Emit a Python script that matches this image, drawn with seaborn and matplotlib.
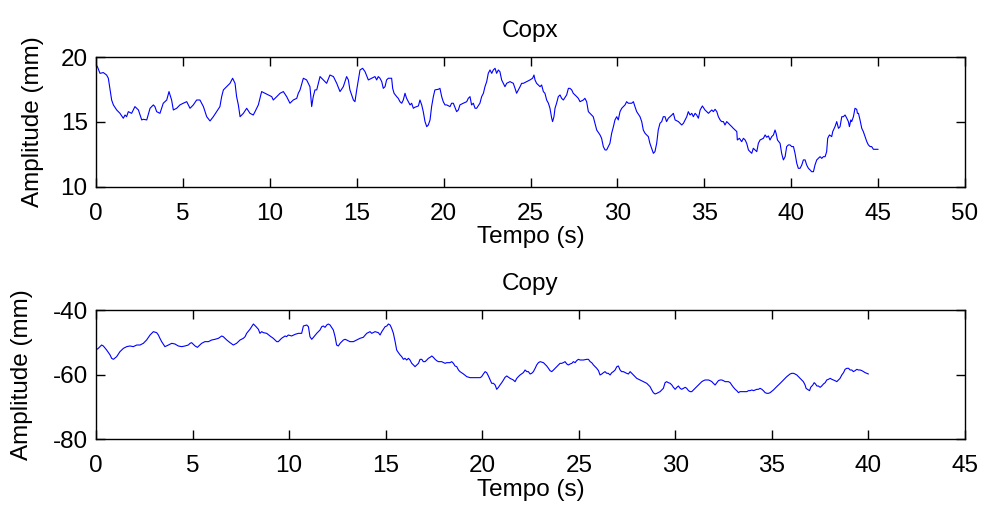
import matplotlib
matplotlib.use("Agg")
import matplotlib.pyplot as plt
import seaborn as sns
import pandas as pd

# ---------------- data ----------------
copx_t = [0.00, 0.08, 0.23, 0.42, 0.61, 0.71, 0.81, 0.90, 1.00, 1.19, 1.38, 1.57, 1.67, 1.76, 1.86,
          2.05, 2.24, 2.44, 2.63, 2.72, 2.92, 3.11, 3.30, 3.39, 3.49, 3.68, 3.87, 4.07, 4.20, 4.35,
          4.45, 4.64, 4.83, 5.02, 5.22, 5.41, 5.60, 5.79, 5.98, 6.18, 6.37, 6.56, 6.75, 6.94, 7.13,
          7.23, 7.33, 7.52, 7.71, 7.86, 8.00, 8.09, 8.19, 8.29, 8.48, 8.67, 8.86, 9.05, 9.15, 9.34,
          9.53, 9.72, 9.92, 10.11, 10.20, 10.40, 10.59, 10.78, 10.97, 11.16, 11.35, 11.55, 11.64,
          11.74, 11.93, 12.12, 12.31, 12.41, 12.50, 12.60, 12.70, 12.89, 13.08, 13.27, 13.46, 13.66,
          13.85, 14.04, 14.23, 14.42, 14.52, 14.61, 14.81, 14.90, 15.00, 15.19, 15.34, 15.48, 15.67,
          15.86, 16.05, 16.15, 16.24,
          16.34, 16.44, 16.53, 16.63, 16.72, 16.82, 17.01, 17.07, 17.15, 17.30, 17.39, 17.49, 17.59,
          17.68, 17.78, 17.87, 17.97, 18.07, 18.16, 18.26, 18.35, 18.45, 18.55, 18.64, 18.74, 18.83,
          18.93, 19.03, 19.12, 19.22, 19.31, 19.41, 19.50, 19.70, 19.79, 19.89, 19.98, 20.08, 20.18,
          20.37, 20.46, 20.56, 20.75, 20.85, 20.94, 21.13, 21.33, 21.42, 21.52, 21.61, 21.71, 21.81,
          21.90, 22.09, 22.19, 22.29, 22.38, 22.48, 22.57, 22.67, 22.77, 22.86, 22.96, 23.05, 23.15,
          23.24, 23.34, 23.53, 23.63, 23.82, 24.01, 24.11, 24.20, 24.40, 24.49, 24.59, 24.78, 24.97,
          25.12, 25.20, 25.26, 25.35, 25.55, 25.64, 25.74, 25.83, 25.93, 26.03, 26.12, 26.22, 26.27,
          26.35, 26.41, 26.50, 26.60, 26.70, 26.79, 26.89, 27.08, 27.18, 27.27, 27.37, 27.46, 27.66,
          27.75, 27.85, 28.04, 28.13, 28.23, 28.33, 28.52, 28.61, 28.71, 28.81, 29.00, 29.09, 29.19,
          29.29, 29.38, 29.48, 29.57, 29.67, 29.77, 29.86, 29.96, 30.05, 30.15, 30.25, 30.44, 30.53,
          30.63, 30.72, 30.82, 30.92, 31.01, 31.11, 31.30, 31.40, 31.49, 31.59, 31.68, 31.78, 31.87,
          31.97, 32.07, 32.16, 32.26, 32.35, 32.45, 32.55, 32.64, 32.74, 32.83, 32.93,
          33.03, 33.13, 33.22, 33.32, 33.51, 33.70, 33.80, 33.99, 34.08, 34.18, 34.28, 34.37, 34.47,
          34.56, 34.66, 34.76, 34.89, 35.04, 35.14, 35.24, 35.33, 35.43, 35.52, 35.62, 35.72, 35.81,
          35.91, 36.00, 36.10, 36.19, 36.29, 36.39, 36.48, 36.58, 36.67, 36.77, 36.87, 36.90, 37.02,
          37.15, 37.25, 37.35, 37.44, 37.54, 37.63, 37.73, 37.82, 37.92, 38.02, 38.11, 38.21, 38.40,
          38.50, 38.59, 38.69, 38.78, 38.88, 38.98, 39.07, 39.13, 39.21, 39.36, 39.45, 39.55, 39.65,
          39.74, 39.84, 39.93, 40.03, 40.13, 40.22, 40.32, 40.41, 40.51, 40.61, 40.70, 40.80, 40.89,
          40.99, 41.09, 41.18, 41.28, 41.37, 41.47, 41.56, 41.66, 41.76, 41.85, 41.95, 42.04, 42.10,
          42.20, 42.33, 42.39, 42.52, 42.62, 42.72, 42.81, 42.91, 43.00, 43.10, 43.20, 43.29, 43.35,
          43.43, 43.48, 43.58, 43.67, 43.77, 43.81, 43.87, 43.96, 44.06, 44.15, 44.25, 44.35, 44.44,
          44.54, 44.63, 44.73, 45.00]
copx_v = [19.41, 19.28, 18.76, 18.82, 18.63, 18.38, 17.48, 16.70, 16.32, 15.93, 15.67, 15.29, 15.54,
          15.41, 15.80, 15.67, 16.19, 15.93, 15.16, 15.21, 15.16, 16.06, 16.32, 16.19, 15.80, 15.67,
          16.45, 16.70, 17.35, 16.70, 15.93, 16.06, 16.32, 16.45, 16.57, 16.06, 16.32, 16.70, 16.70,
          16.19, 15.41, 15.08, 15.41, 15.80, 16.19, 16.96, 17.48, 17.73, 17.99, 18.38, 17.99, 16.96,
          16.32, 15.41, 15.67, 16.06, 15.67, 15.54, 15.80, 16.32, 17.35, 17.22, 17.09, 16.96, 16.70,
          16.96, 17.22, 17.35, 16.96, 16.45, 16.70, 16.83, 17.22, 17.48, 18.38, 18.25, 17.73, 16.19,
          16.96, 17.48, 17.48, 18.51, 18.25, 17.99, 18.63, 18.51, 17.99, 17.35, 17.73, 18.51, 18.25,
          17.48, 16.70, 16.57, 17.48, 19.02, 19.15, 18.89, 18.25, 18.38, 18.51, 18.25, 18.51,
          18.38, 18.12, 17.60, 17.73, 18.25, 18.38, 18.38, 17.60, 17.22, 16.96, 16.83, 16.57, 16.45,
          16.70, 17.22, 16.83, 16.57, 16.32, 16.45, 16.06, 16.14, 16.19, 16.24, 16.70, 16.32, 15.80,
          15.03, 14.64, 14.77, 15.16, 16.19, 16.96, 17.48, 17.53, 17.60, 16.96, 16.57, 16.32, 16.32,
          16.19, 16.45, 16.45, 15.80, 15.93, 16.32, 16.45, 16.57, 16.83, 16.96, 16.32, 16.45, 16.06,
          16.06, 16.45, 16.96, 17.22, 17.73, 18.12, 18.76, 19.02, 18.76, 19.02, 19.15, 18.76, 19.02,
          18.89, 18.25, 17.73, 17.99, 18.12, 17.99, 17.60, 17.22, 17.73, 17.99, 17.99, 18.12, 18.25,
          18.38, 18.63, 18.25, 17.99, 17.73, 17.86, 17.35, 17.22, 16.70, 16.45, 16.06, 15.29, 15.03,
          15.41, 16.06, 16.45, 16.96, 17.09, 16.83, 16.70, 17.09, 17.60, 17.60, 17.48, 17.22, 16.96,
          16.83, 16.57, 16.70, 16.83, 16.57, 15.80, 15.54, 15.41, 14.90, 14.38, 14.00, 13.74, 13.10,
          12.84, 12.84, 13.10, 13.35, 14.13, 14.64, 15.16, 15.41, 15.16, 15.80, 16.06, 16.32, 16.57,
          16.45, 16.45, 16.45, 16.57, 16.19, 15.80, 15.41, 15.03, 14.38, 14.13, 14.00, 13.87, 13.35,
          12.97, 12.58, 12.71, 13.35, 14.38, 14.90, 15.03, 15.41, 15.41, 15.03, 15.29,
          15.41, 15.54, 15.67, 15.16, 15.03, 14.77, 14.90, 15.41, 15.80, 15.54, 15.67, 15.41, 15.67,
          15.54, 15.29, 15.93, 16.24, 15.93, 15.80, 15.67, 15.80, 15.93, 15.80, 15.98, 15.80, 15.41,
          15.16, 15.03, 15.03, 14.77, 15.03, 14.90, 14.77, 14.64, 14.51, 14.38, 14.26, 13.61, 13.74,
          13.48, 13.74, 13.61, 13.35, 12.84, 12.71, 12.58, 12.97, 12.84, 12.71, 13.35, 13.61, 13.74,
          14.00, 13.82, 13.92, 13.61, 13.87, 14.00, 14.38, 14.13, 13.61, 13.35, 12.58, 12.07, 12.32,
          13.10, 13.23, 13.23, 13.10, 13.10, 12.58, 11.81, 11.42, 11.42, 11.68, 12.07, 12.07, 11.68,
          11.42, 11.29, 11.16, 11.16, 11.68, 12.07, 12.19, 12.32, 12.19, 12.32, 12.32, 12.71, 13.74,
          14.00, 13.87, 14.26, 14.64, 15.03, 14.51, 14.64, 15.41, 15.41, 15.54, 15.29, 15.03, 14.64,
          15.16, 15.03, 15.41, 16.06, 15.98, 15.67, 15.67, 15.16, 14.51, 14.26, 13.87, 13.48, 13.23,
          13.10, 13.10, 12.89, 12.89]

copy_t = [0.00, 0.12, 0.29, 0.38, 0.55, 0.73, 0.81, 0.90, 1.07, 1.24, 1.42, 1.59, 1.76, 1.93, 2.11,
          2.28, 2.45, 2.62, 2.80, 2.97, 3.14, 3.23, 3.31, 3.40, 3.57, 3.75, 3.92, 4.09, 4.26, 4.44,
          4.61, 4.78, 4.87, 4.95, 5.13, 5.25, 5.47, 5.64, 5.82, 5.99, 6.16, 6.34, 6.51, 6.59, 6.77,
          6.94, 7.11, 7.28, 7.46, 7.63, 7.72, 7.80, 7.97, 8.15, 8.29, 8.41, 8.49, 8.58, 8.67, 8.84,
          9.01, 9.18, 9.36, 9.44, 9.61, 9.79, 9.87, 9.96, 10.13, 10.31, 10.48, 10.65, 10.74, 10.91,
          11.00, 11.08, 11.17, 11.26, 11.43, 11.60, 11.69, 11.77, 11.86, 11.95, 12.03, 12.12, 12.29,
          12.38, 12.46, 12.55, 12.64, 12.81, 12.90, 12.98, 13.15, 13.33, 13.50, 13.67, 13.84, 14.02,
          14.19, 14.28, 14.45, 14.62,
          14.71, 14.80, 14.88, 14.97, 15.06, 15.14, 15.23, 15.31, 15.40, 15.49, 15.57, 15.66, 15.75,
          15.83, 15.92, 16.00, 16.09, 16.18, 16.26, 16.35, 16.44, 16.52, 16.61, 16.70, 16.78, 16.87,
          16.95, 17.04, 17.13, 17.21, 17.30, 17.39, 17.47, 17.56, 17.64, 17.73, 17.90, 18.08, 18.16,
          18.33, 18.42, 18.51, 18.59, 18.68, 18.77, 18.85, 19.03, 19.20, 19.37, 19.54, 19.72, 19.89,
          19.97, 20.06, 20.15, 20.23, 20.32, 20.41, 20.49, 20.58, 20.67, 20.75, 20.84, 20.92, 21.01,
          21.10, 21.18, 21.27, 21.44, 21.61, 21.70, 21.79, 21.87, 21.96, 22.13, 22.22, 22.31, 22.39,
          22.48, 22.56, 22.65, 22.74, 22.82, 22.91, 23.00, 23.17, 23.34, 23.43, 23.51, 23.60, 23.69,
          23.86, 23.95, 24.03, 24.12, 24.20, 24.29, 24.38, 24.46, 24.55, 24.64, 24.72, 24.81, 24.89,
          24.98, 25.07, 25.24, 25.41, 25.50, 25.59, 25.67, 25.76, 25.93, 26.02, 26.10, 26.19, 26.28,
          26.36, 26.45, 26.53, 26.62, 26.71, 26.79, 26.88, 26.97, 27.05, 27.14, 27.22, 27.31, 27.48,
          27.57, 27.66, 27.83, 28.00, 28.17, 28.35, 28.52, 28.69, 28.78, 28.86, 28.95, 29.04, 29.21,
          29.30, 29.38, 29.47, 29.55, 29.64,
          29.73, 29.82, 29.90, 29.99, 30.08, 30.16, 30.25, 30.33, 30.42, 30.51, 30.59, 30.68, 30.77,
          30.85, 30.94, 31.11, 31.28, 31.37, 31.46, 31.54, 31.63, 31.72, 31.80, 31.89, 31.97, 32.06,
          32.15, 32.23, 32.32, 32.41, 32.49, 32.58, 32.66, 32.75, 32.84, 32.92, 33.01, 33.10, 33.18,
          33.27, 33.35, 33.44, 33.53, 33.70, 33.79, 33.87, 33.96, 34.05, 34.13, 34.22, 34.30, 34.39,
          34.48, 34.56, 34.65, 34.74, 34.82, 34.91, 35.08, 35.25, 35.43, 35.60, 35.77, 35.94, 36.03,
          36.12, 36.20, 36.29, 36.46, 36.63, 36.72, 36.77, 36.84, 36.95, 37.01, 37.12, 37.19, 37.26,
          37.33, 37.41, 37.50, 37.58, 37.67, 37.76, 37.84, 37.93, 38.02, 38.10, 38.19, 38.27, 38.36,
          38.45, 38.53, 38.62, 38.71, 38.79, 38.88, 38.97, 39.05, 39.14, 39.22, 39.31, 39.40, 39.48,
          39.57, 39.66, 39.74, 39.83, 40.00]
copy_v = [-52.37, -51.86, -50.83, -51.13, -52.37, -53.92, -54.95, -55.26, -54.43, -52.89, -51.86,
          -51.34, -51.13, -51.34, -50.83, -50.83, -50.31, -49.28, -47.73, -46.70, -47.01, -47.73,
          -48.76, -49.79, -51.34, -50.83, -50.31, -50.52, -51.13, -51.34, -51.13, -50.83, -50.31,
          -50.10, -51.13, -51.55, -50.31, -49.79, -49.79, -49.28, -49.07, -48.76, -48.04, -48.25,
          -49.28, -50.10, -50.83, -50.31, -49.28, -48.76, -48.25, -47.22, -45.98, -44.33, -45.16,
          -45.98, -47.22, -46.70, -47.01, -47.22, -48.04, -48.76, -49.79, -49.79, -48.76, -48.04,
          -48.25, -47.73, -48.04, -47.53, -47.22, -47.22, -44.95, -44.64, -45.16, -48.25, -49.07,
          -48.45, -47.22, -46.19, -45.16, -44.95, -45.36, -44.64, -44.33, -44.64, -46.19, -48.25,
          -50.83, -51.13, -50.31, -49.28, -49.07, -49.28, -49.79, -49.79, -49.28, -48.76, -48.45,
          -47.22, -46.70, -47.22, -46.70, -47.01,
          -47.73, -46.70, -45.98, -45.16, -44.95, -44.33, -44.64, -45.67, -47.22, -49.79, -52.37,
          -53.20, -53.92, -54.43, -55.26, -54.95, -55.47, -54.95, -55.47, -56.50, -57.01, -57.53,
          -57.01, -56.50, -55.26, -55.26, -55.98, -55.98, -55.47, -54.95, -54.64, -54.23, -54.64,
          -55.26, -55.67, -55.98, -55.98, -56.50, -56.29, -56.29, -55.98, -56.50, -57.32, -57.53,
          -58.56, -59.07, -59.80, -60.62, -60.93, -60.93, -60.93, -60.93, -60.62, -59.80, -59.07,
          -59.38, -60.41, -61.65, -62.68, -62.68, -63.20, -64.54, -63.92, -63.20, -62.48, -61.65,
          -60.83, -60.41, -61.14, -61.65, -62.17, -61.14, -60.62, -60.10, -59.38, -58.56, -59.07,
          -59.07, -59.80, -59.59, -59.07, -58.04, -57.01, -56.29, -55.98, -56.29, -57.32, -58.04,
          -58.76, -59.07, -58.56, -57.53, -57.01, -56.50, -56.50, -56.29, -55.98, -56.70, -57.01,
          -56.70, -56.50, -55.98, -56.29, -55.67, -55.26, -55.47, -55.47, -55.26, -55.26, -55.98,
          -56.29, -57.01, -58.04, -58.76, -60.10, -59.80, -59.38, -59.07, -59.59, -59.59, -60.10,
          -59.38, -59.07, -58.56, -57.53, -57.32, -58.56, -59.07, -59.07, -59.59, -59.80, -59.07,
          -60.10, -61.14, -61.65, -62.17, -62.68, -63.71, -64.74, -65.57, -65.98, -65.78, -65.26,
          -64.74, -64.23, -62.48, -62.17, -62.48,
          -62.68, -63.20, -63.92, -64.54, -63.92, -63.51, -64.23, -64.54, -64.23, -63.92, -64.23,
          -64.95, -65.26, -65.26, -64.74, -63.71, -62.68, -62.17, -61.86, -61.65, -61.65, -61.65,
          -61.86, -62.17, -62.68, -63.20, -62.48, -61.86, -61.65, -61.65, -61.86, -62.17, -62.17,
          -62.17, -62.48, -63.20, -63.92, -64.54, -64.95, -65.57, -65.26, -65.26, -65.26, -65.26,
          -64.95, -64.95, -64.74, -64.95, -64.74, -64.54, -64.54, -64.23, -64.54, -64.95, -65.57,
          -65.78, -65.78, -65.57, -64.74, -63.71, -62.68, -61.65, -60.62, -59.80, -59.59, -59.59,
          -59.80, -60.10, -61.14, -62.17, -63.20, -64.23, -64.54, -64.95, -63.92, -63.20, -62.48,
          -62.89, -63.51, -63.51, -63.92, -63.51, -62.89, -62.48, -61.65, -61.44, -61.14, -61.44,
          -61.65, -61.86, -62.17, -61.65, -61.14, -60.10, -59.38, -58.35, -58.04, -58.04, -58.56,
          -58.56, -59.07, -58.76, -58.35, -58.56, -58.56, -58.76, -59.07, -59.38, -59.80]

titles = ["Copx", "Copy"]
xlabel = "Tempo (s)"
ylabel = "Amplitude (mm)"
x_ticks_top = [0, 5, 10, 15, 20, 25, 30, 35, 40, 45, 50]
y_ticks_top = [10, 15, 20]
x_ticks_bot = [0, 5, 10, 15, 20, 25, 30, 35, 40, 45]
y_ticks_bot = [-80, -60, -40]

# ---------------- style ----------------
sns.set_theme(style="ticks")
plt.rcParams["font.family"] = ["Liberation Sans", "DejaVu Sans"]
plt.rcParams["xtick.top"] = True
plt.rcParams["ytick.right"] = True
FS = 17.5

fig = plt.figure(figsize=(9.81, 5.09), dpi=100)
W, H = 981.0, 509.0
ax1 = fig.add_axes([96 / W, 1 - 186.7 / H, 869 / W, 129.4 / H])
ax2 = fig.add_axes([96 / W, 1 - 439.3 / H, 869 / W, 129.3 / H])

df1 = pd.DataFrame({"t": copx_t, "v": copx_v})
df2 = pd.DataFrame({"t": copy_t, "v": copy_v})
sns.lineplot(data=df1, x="t", y="v", ax=ax1, color="#0000ff", lw=0.8,
             estimator=None, sort=False)
sns.lineplot(data=df2, x="t", y="v", ax=ax2, color="#0000ff", lw=0.8,
             estimator=None, sort=False)

setups = [
    (ax1, titles[0], (0, 50), (10, 20), x_ticks_top, y_ticks_top, 12.2),
    (ax2, titles[1], (0, 45), (-80, -40), x_ticks_bot, y_ticks_bot, 14.2),
]
for ax, title, xl, yl, xt, yt, ylp in setups:
    ax.set_xlim(*xl)
    ax.set_ylim(*yl)
    ax.set_xticks(xt)
    ax.set_yticks(yt)
    ax.set_xticklabels([str(v) for v in xt])
    ax.set_yticklabels([str(v) for v in yt])
    ax.set_title(title, fontsize=FS, pad=14.6, color="black")
    ax.set_xlabel(xlabel, fontsize=FS, labelpad=1, color="black")
    ax.set_ylabel(ylabel, fontsize=FS, labelpad=ylp, color="black")
    ax.tick_params(axis="both", which="major", direction="in", length=6.3, width=1.0,
                   color="black", labelsize=FS, labelcolor="black",
                   top=True, right=True, bottom=True, left=True)
    ax.tick_params(axis="x", pad=11.5)
    ax.tick_params(axis="y", pad=6)
    for s in ax.spines.values():
        s.set_visible(True)
        s.set_color("black")
        s.set_linewidth(1.0)
    ax.set_facecolor("white")
    ax.grid(False)

fig.patch.set_facecolor("white")
fig.savefig("out.png", dpi=100, facecolor="white")
